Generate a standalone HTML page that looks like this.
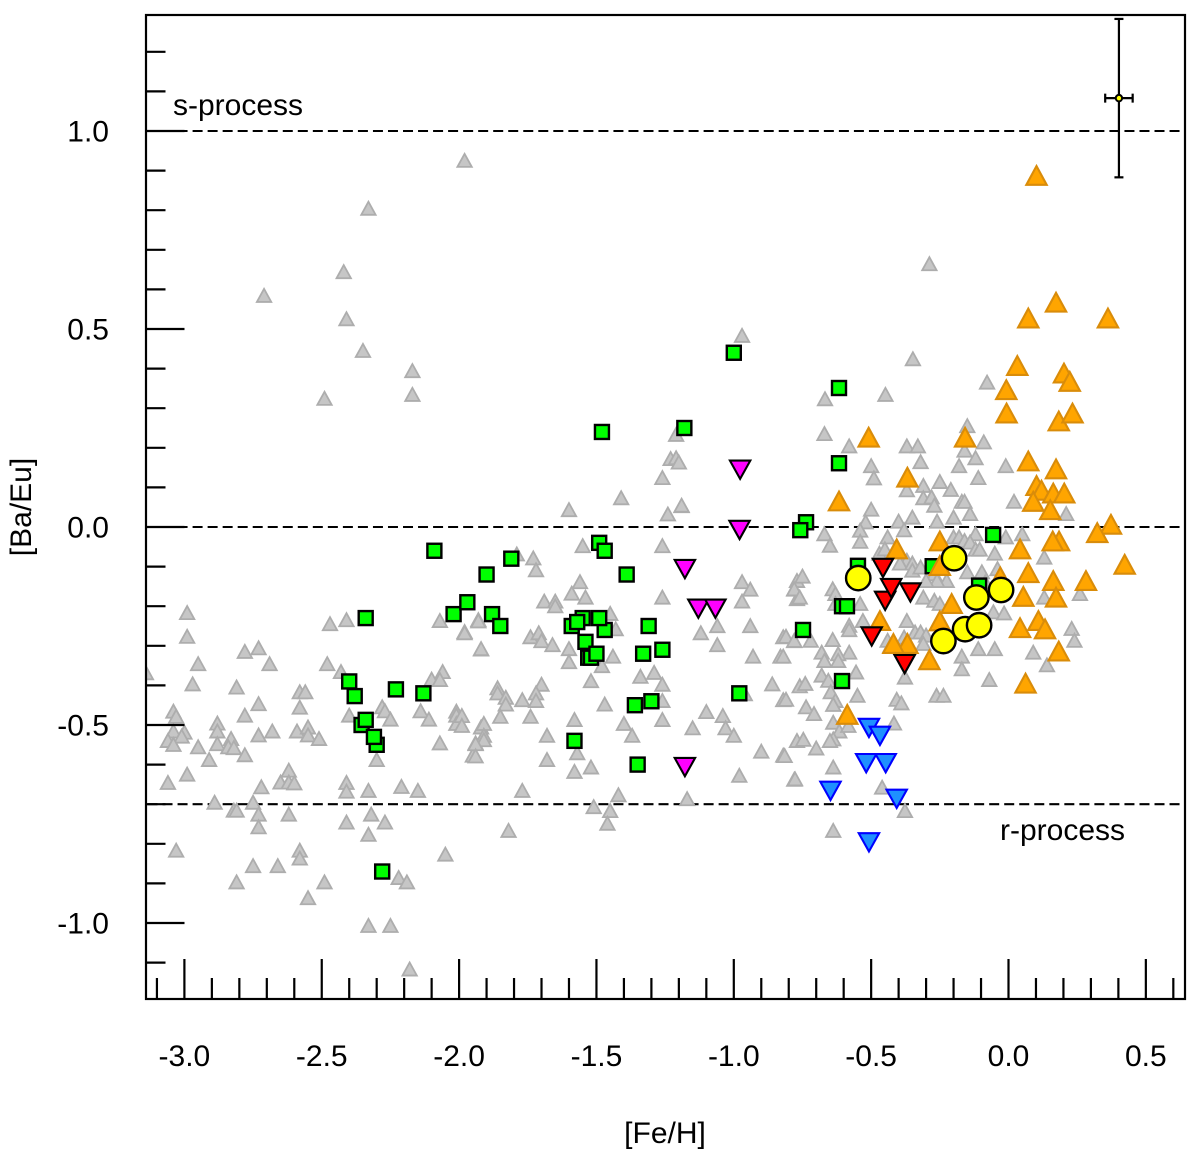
<!DOCTYPE html>
<html lang="en">
<head>
<meta charset="utf-8">
<title>[Ba/Eu] vs [Fe/H]</title>
<style>
html,body{margin:0;padding:0;background:#fff;}
svg{display:block;}
text{font-family:"Liberation Sans",Arial,sans-serif;font-size:30px;fill:#000;}
</style>
</head>
<body>
<svg id="chart" xmlns="http://www.w3.org/2000/svg" width="1200" height="1157" viewBox="0 0 1200 1157">
<defs><clipPath id="plot-clip"><rect x="146" y="15" width="1039" height="984"></rect></clipPath></defs>
<rect x="0" y="0" width="1200" height="1157" fill="#fff"></rect>
<g id="refs"></g>
<g id="marks" clip-path="url(#plot-clip)"></g>
<g id="axes"></g>
<g id="err"></g>
<text x="665" y="1143" text-anchor="middle">[Fe/H]</text>
<text transform="translate(31,507) rotate(-90)" text-anchor="middle">[Ba/Eu]</text>
<text x="173" y="115">s-process</text>
<text x="1000" y="840">r-process</text>
</svg>
<script>
const xTickLabels = ["-3.0","-2.5","-2.0","-1.5","-1.0","-0.5","0.0","0.5"];
const yTickLabels = ["-1.0","-0.5","0.0","0.5","1.0"];
const referenceLevels = [1.0, 0.0, -0.7];
const errorPoint = [0.402, 1.083];
const errorSize = [0.05, 0.2];

const grayStars = [
[-2.99,-0.215],[-2.99,-0.275],[-2.95,-0.344],[-2.97,-0.395],[-3.14,-0.367],[-3.04,-0.464],[-3.03,-0.477],[-3.04,-0.514],[-3.00,-0.517],[-3.01,-0.527],
[-3.06,-0.538],[-3.04,-0.548],[-2.95,-0.554],[-2.91,-0.586],[-3.06,-0.644],[-2.99,-0.623],[-2.88,-0.494],[-2.88,-0.514],[-2.88,-0.546],[-2.83,-0.533],
[-2.84,-0.554],[-2.82,-0.556],[-2.78,-0.574],[-2.81,-0.403],[-2.78,-0.313],[-2.73,-0.304],[-2.69,-0.344],[-2.73,-0.445],[-2.78,-0.474],[-2.73,-0.524],
[-2.68,-0.514],[-2.59,-0.514],[-2.55,-0.504],[-2.55,-0.524],[-2.51,-0.533],[-2.58,-0.415],[-2.56,-0.415],[-2.58,-0.454],[-2.47,-0.243],[-2.41,-0.233],
[-2.48,-0.344],[-2.43,-0.364],[-2.40,-0.474],[-2.28,-0.453],[-2.27,-0.463],[-2.25,-0.484],[-2.14,-0.463],[-2.11,-0.484],[-2.10,-0.383],[-2.06,-0.364],
[-2.07,-0.384],[-2.07,-0.235],[-1.98,-0.263],[-1.93,-0.233],[-1.92,-0.307],[-2.01,-0.464],[-2.01,-0.474],[-2.01,-0.495],[-2.07,-0.544],[-1.94,-0.544],
[-1.95,-0.575],[-1.92,-0.504],[-2.30,-0.586],[-2.62,-0.613],[-2.65,-0.643],[-2.62,-0.643],[-2.60,-0.645],[-2.72,-0.655],[-2.89,-0.694],[-2.82,-0.714],
[-2.81,-0.714],[-2.75,-0.694],[-2.73,-0.724],[-2.73,-0.756],[-2.62,-0.724],[-2.41,-0.644],[-2.41,-0.666],[-2.33,-0.664],[-2.21,-0.654],[-2.15,-0.664],
[-2.41,-0.744],[-2.32,-0.724],[-2.27,-0.744],[-2.33,-0.775],[-3.03,-0.815],[-2.75,-0.854],[-2.66,-0.854],[-2.58,-0.815],[-2.58,-0.835],[-2.81,-0.895],
[-2.49,-0.895],[-2.55,-0.935],[-2.33,-1.005],[-2.25,-1.005],[-2.22,-0.884],[-2.19,-0.895],[-2.05,-0.825],[-2.18,-1.115],
[-1.60,0.045],[-1.24,0.034],[-1.19,0.055],[-1.41,0.075],[-1.55,-0.046],[-1.26,-0.046],[-1.79,-0.067],[-1.73,-0.077],[-1.72,-0.107],[-1.56,-0.137],
[-1.59,-0.166],[-1.54,-0.176],[-1.69,-0.186],[-1.65,-0.186],[-1.65,-0.198],[-1.45,-0.217],[-1.26,-0.176],[-0.97,-0.137],[-0.94,-0.156],[-0.97,-0.186],
[-0.78,-0.156],[-0.77,-0.134],[-0.77,-0.18],[-1.93,-0.236],[-1.98,-0.266],[-1.92,-0.306],[-1.74,-0.276],[-1.71,-0.266],[-1.70,-0.286],[-1.66,-0.296],
[-1.60,-0.306],[-1.60,-0.339],[-1.43,-0.256],[-1.44,-0.325],[-1.48,-0.349],[-1.06,-0.248],[-1.12,-0.266],[-1.06,-0.296],[-0.94,-0.248],[-0.93,-0.325],
[-0.82,-0.276],[-0.78,-0.286],[-0.83,-0.325],[-1.52,-0.387],[-1.34,-0.376],[-1.29,-0.366],[-1.26,-0.396],[-1.70,-0.396],[-1.86,-0.405],[-1.86,-0.418],
[-1.83,-0.429],[-1.72,-0.418],[-1.77,-0.435],[-1.72,-0.437],[-1.83,-0.446],[-1.85,-0.477],[-1.74,-0.477],[-1.47,-0.446],[-1.26,-0.437],[-1.26,-0.485],
[-1.58,-0.485],[-1.40,-0.495],[-1.37,-0.525],[-1.68,-0.525],[-1.91,-0.495],[-1.91,-0.525],[-1.91,-0.536],[-1.94,-0.546],[-1.94,-0.577],[-1.99,-0.475],
[-1.99,-0.50],[-1.68,-0.586],[-1.57,-0.569],[-1.52,-0.605],[-1.58,-0.616],[-1.77,-0.664],[-1.42,-0.675],[-1.51,-0.705],[-1.45,-0.715],[-1.46,-0.747],
[-1.82,-0.765],[-1.17,-0.685],[-0.96,-0.42],[-0.86,-0.395],[-0.82,-0.435],[-0.76,-0.40],[-1.10,-0.465],[-1.04,-0.475],[-1.03,-0.506],[-1.00,-0.525],
[-1.15,-0.506],[-0.90,-0.565],[-0.82,-0.575],[-0.77,-0.538],[-0.98,-0.626],[-0.78,-0.636],
[-0.97,0.485],[-1.21,0.235],[-1.23,0.174],[-1.21,0.176],[-1.20,0.165],[-1.26,0.126],[-1.19,0.056],
[-0.67,0.237],[-0.58,0.206],[-0.37,0.206],[-0.33,0.206],[-0.15,0.257],[-0.16,0.195],[-0.09,0.216],[-0.12,0.176],[-0.32,0.166],[-0.50,0.156],
[-0.49,0.125],[-0.18,0.156],[-0.01,0.156],[-0.11,0.126],[-0.37,0.095],[-0.25,0.116],[-0.31,0.106],[-0.21,0.096],[-0.31,0.075],[-0.28,0.077],
[-0.27,0.056],[-0.17,0.066],[-0.16,0.066],[0.02,0.066],[-0.50,0.046],[-0.20,0.026],[-0.14,0.035],[-0.35,0.026],[-0.26,0.016],[-0.40,0.016],
[-0.52,0.014],[0.21,0.035],[-0.54,-0.007],[-0.38,-0.006],[-0.67,-0.016],[-0.54,-0.035],[-0.65,-0.045],[-0.44,-0.024],[-0.20,-0.024],[-0.18,-0.024],
[-0.12,-0.016],[-0.01,-0.024],[0.05,-0.016],[-0.16,-0.033],[-0.14,-0.037],[-0.12,-0.055],[-0.105,-0.055],[-0.47,-0.065],[-0.45,-0.054],[-0.05,-0.065],
[0.13,-0.075],[-0.04,-0.104],[-0.37,-0.083],[-0.395,-0.09],[-0.35,-0.09],[-0.35,-0.108],[-0.32,-0.10],[-0.27,-0.117],[-0.225,-0.134],[-0.26,-0.134],
[-0.30,-0.134],[-0.15,-0.112],[-0.097,-0.112],[-0.085,-0.138],[-0.75,-0.123],[-0.78,-0.155],[-0.76,-0.176],[-0.64,-0.155],[-0.63,-0.167],[-0.54,-0.192],
[-0.63,-0.192],[-0.31,-0.176],[-0.27,-0.184],[-0.25,-0.192],[0.13,-0.176],[0.26,-0.167],[-0.055,-0.213],[-0.016,-0.216],[-0.37,-0.235],[-0.53,-0.235],
[-0.58,-0.247],[-0.58,-0.258],[-0.81,-0.275],[-0.78,-0.285],[-0.72,-0.285],[-0.64,-0.283],[-0.34,-0.264],[-0.32,-0.264],[-0.30,-0.272],[-0.44,-0.285],
[-0.43,-0.298],[-0.38,-0.277],[-0.31,-0.293],[0.23,-0.255],[0.24,-0.285],[-0.11,-0.306],[-0.05,-0.306],[-0.58,-0.315],[-0.68,-0.315],[-0.67,-0.336],
[-0.62,-0.319],[-0.62,-0.336],[-0.82,-0.325],[0.09,-0.315],[0.14,-0.347],[-0.17,-0.325],[-0.17,-0.357],[-0.555,-0.365],[-0.68,-0.373],[-0.656,-0.386],
[-0.74,-0.394],[-0.07,-0.384],[-0.377,-0.378],[-0.647,-0.415],[-0.81,-0.434],[-0.55,-0.424],[-0.63,-0.437],[-0.407,-0.434],[-0.39,-0.443],[-0.262,-0.424],
[-0.237,-0.424],[-0.737,-0.453],[-0.708,-0.47],[-0.638,-0.447],
[-0.638,-0.492],[-0.616,-0.514],[-0.638,-0.534],[-0.65,-0.538],[-0.583,-0.50],[-0.747,-0.535],[-0.70,-0.557],[-0.815,-0.576],[-0.638,-0.605],[-0.777,-0.635],
[-0.46,-0.656],[-0.377,-0.715],[-0.638,-0.765],[-0.417,-0.494],
[-1.98,0.927],[-2.33,0.806],[-2.42,0.646],[-2.71,0.586],[-2.41,0.527],[-2.35,0.447],[-2.17,0.396],[-2.17,0.336],[-2.49,0.326],
[-0.288,0.666],[-0.348,0.426],[-0.078,0.367],[-0.448,0.336],[-0.668,0.325]
];
const greenStars = [
[-2.34,-0.23],[-2.40,-0.39],[-2.38,-0.427],[-2.23,-0.41],[-2.13,-0.42],[-2.355,-0.50],[-2.34,-0.487],[-2.30,-0.55],[-2.31,-0.53],[-2.28,-0.87],
[-2.09,-0.06],[-2.02,-0.22],[-1.97,-0.19],[-1.90,-0.12],[-1.88,-0.22],[-1.85,-0.25],[-1.81,-0.08],[-1.49,-0.04],[-1.47,-0.06],[-1.39,-0.12],
[-1.59,-0.25],[-1.55,-0.23],[-1.57,-0.24],[-1.47,-0.26],[-1.49,-0.23],[-1.53,-0.33],[-1.52,-0.33],[-1.54,-0.29],[-1.50,-0.32],[-1.31,-0.25],
[-1.26,-0.31],[-1.33,-0.32],[-1.36,-0.45],[-1.30,-0.44],[-1.58,-0.54],[-1.35,-0.60],[-0.98,-0.42],[-1.48,0.24],[-1.18,0.25],[-1.00,0.44],
[-0.617,0.351],[-0.617,0.161],[-0.737,0.012],[-0.758,-0.008],[-0.056,-0.02],[-0.548,-0.098],[-0.276,-0.099],[-0.107,-0.148],[-0.606,-0.20],[-0.588,-0.20],
[-0.748,-0.26],[-0.606,-0.389]
];
const magentaStars = [[-0.977,0.144],[-0.979,-0.008],[-1.178,-0.107],[-1.129,-0.207],[-1.067,-0.207],[-1.178,-0.607]];
const blueStars = [[-0.508,-0.508],[-0.468,-0.528],[-0.518,-0.597],[-0.447,-0.597],[-0.648,-0.667],[-0.407,-0.687],[-0.508,-0.797]];
const orangeStars = [
[0.102,0.889],[0.173,0.569],[0.072,0.529],[0.362,0.529],[0.032,0.409],[0.202,0.390],[0.223,0.369],[-0.008,0.348],[-0.007,0.289],[0.183,0.269],
[0.233,0.289],[-0.509,0.228],[-0.158,0.228],[0.072,0.168],[0.173,0.148],[-0.368,0.127],[0.102,0.106],[0.12,0.094],[0.163,0.087],[0.203,0.087],
[0.09,0.066],[0.152,0.045],[-0.617,0.067],[0.373,0.008],[0.323,-0.013],[0.423,-0.093],[-0.25,-0.034],[-0.407,-0.054],[0.042,-0.054],[0.184,-0.034],
[0.161,-0.034],[0.072,-0.114],[0.163,-0.134],[0.282,-0.134],[-0.25,-0.096],[-0.03,-0.125],[0.054,-0.174],[0.173,-0.176],[-0.207,-0.192],[-0.468,-0.235],
[-0.25,-0.236],[0.042,-0.253],[0.109,-0.235],[0.133,-0.256],[-0.368,-0.293],[-0.419,-0.293],[-0.288,-0.334],[0.183,-0.312],[0.062,-0.393],[-0.587,-0.472]
];
const redStars = [[-0.457,-0.104],[-0.449,-0.187],[-0.427,-0.155],[-0.357,-0.166],[-0.498,-0.277],[-0.378,-0.347]];
const yellowStars = [[-0.547,-0.129],[-0.198,-0.079],[-0.027,-0.159],[-0.158,-0.258],[-0.117,-0.178],[-0.107,-0.248],[-0.237,-0.288]];

const NS = 'http://www.w3.org/2000/svg';
function xScale(v){ return 1008.5 + 274.7 * v; }
function yScale(v){ return 527 - 396 * v; }
function make(tag, parent, attrs){
  const el = document.createElementNS(NS, tag);
  for (const k in attrs) el.setAttribute(k, attrs[k]);
  parent.appendChild(el);
  return el;
}
function triPoints(cx, cy, halfBase, apex, base, dir){
  return (cx) + ',' + (cy - dir * apex) + ' ' + (cx - halfBase) + ',' + (cy + dir * base) + ' ' + (cx + halfBase) + ',' + (cy + dir * base);
}
const marks = document.getElementById('marks');
const refs = document.getElementById('refs');
const axes = document.getElementById('axes');
const err = document.getElementById('err');

referenceLevels.forEach(function(level){
  const l = make('line', refs, {x1:147.5, x2:1185, y1:yScale(level), y2:yScale(level), stroke:'#000', 'stroke-width':2.1, 'stroke-dasharray':'10 5.03'});
  
  
});

grayStars.forEach(function(d){
  const el = make('polygon', marks, {points:triPoints(xScale(d[0]), yScale(d[1]), 7.2, 6.1, 7, 1), fill:'#c6c6c6', stroke:'#adadad', 'stroke-width':1.8});
  
  
});
greenStars.forEach(function(d){
  const el = make('rect', marks, {x:xScale(d[0])-7, y:yScale(d[1])-7, width:14, height:14, fill:'#00ff00', stroke:'#000', 'stroke-width':2.4});
  
  
});
magentaStars.forEach(function(d){
  const el = make('polygon', marks, {points:triPoints(xScale(d[0]), yScale(d[1]), 10.2, 8.9, 9.4, -1), fill:'#ff00ff', stroke:'#000', 'stroke-width':2.1});
  
  
});
blueStars.forEach(function(d){
  const el = make('polygon', marks, {points:triPoints(xScale(d[0]), yScale(d[1]), 10.2, 8.9, 9.4, -1), fill:'#1e90ff', stroke:'#0000ff', 'stroke-width':2.1});
  
  
});
orangeStars.forEach(function(d){
  const el = make('polygon', marks, {points:triPoints(xScale(d[0]), yScale(d[1]), 10.2, 8.9, 9.9, 1), fill:'#ffa500', stroke:'#d98c0a', 'stroke-width':2.1});
  
  
});
redStars.forEach(function(d){
  const el = make('polygon', marks, {points:triPoints(xScale(d[0]), yScale(d[1]), 10.2, 8.9, 9.4, -1), fill:'#ff0000', stroke:'#000', 'stroke-width':2.1});
  
  
});
yellowStars.forEach(function(d){
  const el = make('circle', marks, {cx:xScale(d[0]), cy:yScale(d[1]), r:12.2, fill:'#ffff00', stroke:'#000', 'stroke-width':2.4});
  
  
});

// Axis ticks every 0.1, major every 0.5
for (let i = -31; i <= 6; i++) {
  const major = (i % 5 === 0);
  const px = xScale(i / 10);
  const t = make('line', axes, {x1:px, x2:px, y1:999, y2:major ? 959 : 978, stroke:'#000', 'stroke-width':2.2});
  
  
}
for (let i = -11; i <= 12; i++) {
  const major = (i % 5 === 0);
  const py = yScale(i / 10);
  const t = make('line', axes, {x1:146, x2:major ? 184.5 : 165.5, y1:py, y2:py, stroke:'#000', 'stroke-width':2.2});
  
  
}
xTickLabels.forEach(function(s){
  const t = make('text', axes, {x:xScale(parseFloat(s)), y:1066, 'text-anchor':'middle'});
  t.textContent = s;
  
  
});
yTickLabels.forEach(function(s){
  const t = make('text', axes, {x:109, y:yScale(parseFloat(s)) + 10.5, 'text-anchor':'end'});
  t.textContent = s;
  
  
});
const frame = make('rect', axes, {x:146, y:15, width:1039, height:984, fill:'none', stroke:'#000', 'stroke-width':2.2});



// Error bar
const ex = xScale(errorPoint[0]), ey = yScale(errorPoint[1]);
const ex0 = xScale(errorPoint[0] - errorSize[0]), ex1 = xScale(errorPoint[0] + errorSize[0]);
const ey0 = yScale(errorPoint[1] + errorSize[1]), ey1 = yScale(errorPoint[1] - errorSize[1]);
[[ex,ey0,ex,ey1],[ex0,ey,ex1,ey],[ex-4.5,ey0,ex+4.5,ey0],[ex-4.5,ey1,ex+4.5,ey1],[ex0,ey-4.5,ex0,ey+4.5],[ex1,ey-4.5,ex1,ey+4.5]].forEach(function(s){
  const l = make('line', err, {x1:s[0], y1:s[1], x2:s[2], y2:s[3], stroke:'#000', 'stroke-width':2.2});
  
  
});
const ep = make('circle', err, {cx:ex, cy:ey, r:3.2, fill:'#ffff00', stroke:'#000', 'stroke-width':2});


</script>
</body>
</html>
